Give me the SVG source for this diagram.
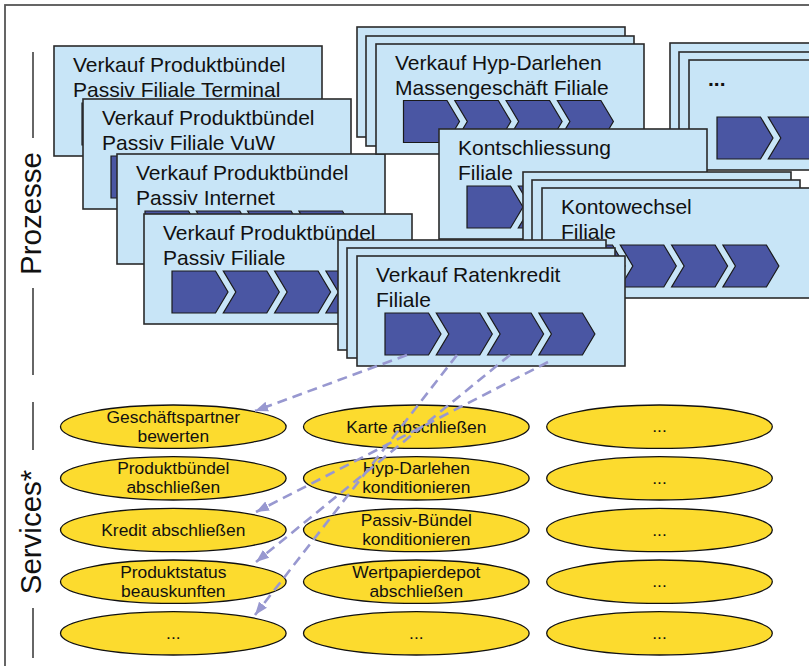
<svg xmlns="http://www.w3.org/2000/svg" xmlns:xlink="http://www.w3.org/1999/xlink" width="809" height="666" viewBox="0 0 809 666">
<style>
.card{fill:#C8E5F7;stroke:#2a2a2a;stroke-width:1.6}
.chev{fill:#4A56A3;stroke:#1a1a1a;stroke-width:1.2}
.ct{font-family:"Liberation Sans",Arial,sans-serif;font-size:21px;fill:#111}
.ell{fill:#FCDB2E;stroke:#111;stroke-width:1.3}
.et{font-family:"Liberation Sans",Arial,sans-serif;font-size:17.4px;fill:#111;text-anchor:middle}
.axis{font-family:"Liberation Sans",Arial,sans-serif;font-size:29.5px;fill:#111;text-anchor:middle}
.aline{stroke:#333;stroke-width:1.5}
.conn{fill:none;stroke:#9898D0;stroke-width:2.6;stroke-dasharray:10 6}
</style>
<defs>
<path id="c1" class="chev" d="M0,0 H43.5 L56,21 L43.5,42 H0 Z"/>
<path id="c2" class="chev" d="M0,0 H43.5 L56,21 L43.5,42 H0 L12.5,21 Z"/>
<marker id="ah" markerUnits="userSpaceOnUse" markerWidth="14" markerHeight="12" viewBox="0 0 14 12" refX="13" refY="6" orient="auto">
<path d="M0,1 L13,6 L0,11 Z" fill="#9898D0"/>
</marker>
</defs>
<rect x="5" y="5" width="900" height="800" fill="#fff" stroke="#555" stroke-width="1.8"/>
<g id="axis-prozesse">
<line class="aline" x1="33" y1="52" x2="33" y2="138"/>
<line class="aline" x1="33" y1="288" x2="33" y2="375"/>
<text class="axis" transform="translate(41,213.5) rotate(-90)">Prozesse</text>
</g>
<g id="axis-services">
<line class="aline" x1="33" y1="402" x2="33" y2="450"/>
<line class="aline" x1="33" y1="608" x2="33" y2="658"/>
<text class="axis" transform="translate(41,532) rotate(-90)">Services*</text>
</g>
<g id="p-terminal">
<rect class="card" x="54" y="46" width="268" height="110"/>
<use xlink:href="#c1" x="82" y="103"/><use xlink:href="#c2" x="133.3" y="103"/><use xlink:href="#c2" x="184.6" y="103"/><use xlink:href="#c2" x="235.9" y="103"/>
<text class="ct" x="73" y="72">Verkauf Produktbündel</text>
<text class="ct" x="73" y="97">Passiv Filiale Terminal</text>
</g>
<g id="p-vuw">
<rect class="card" x="83" y="99" width="268" height="110"/>
<use xlink:href="#c1" x="111" y="156"/><use xlink:href="#c2" x="162.3" y="156"/><use xlink:href="#c2" x="213.6" y="156"/><use xlink:href="#c2" x="264.9" y="156"/>
<text class="ct" x="102" y="125">Verkauf Produktbündel</text>
<text class="ct" x="102" y="150">Passiv Filiale VuW</text>
</g>
<g id="p-internet">
<rect class="card" x="117" y="154" width="268" height="110"/>
<use xlink:href="#c1" x="145" y="211"/><use xlink:href="#c2" x="196.3" y="211"/><use xlink:href="#c2" x="247.6" y="211"/><use xlink:href="#c2" x="298.9" y="211"/>
<text class="ct" x="136" y="180">Verkauf Produktbündel</text>
<text class="ct" x="136" y="205">Passiv Internet</text>
</g>
<g id="p-filiale">
<rect class="card" x="144" y="214" width="268" height="110"/>
<use xlink:href="#c1" x="172" y="271"/><use xlink:href="#c2" x="223.3" y="271"/><use xlink:href="#c2" x="274.6" y="271"/><use xlink:href="#c2" x="325.9" y="271"/>
<text class="ct" x="163" y="240">Verkauf Produktbündel</text>
<text class="ct" x="163" y="265">Passiv Filiale</text>
</g>
<g id="p-hyp">
<rect class="card" x="357" y="27" width="268" height="110"/>
<rect class="card" x="366" y="36" width="268" height="110"/>
<rect class="card" x="376" y="44" width="268" height="110"/>
<use xlink:href="#c1" x="403.5" y="100.5"/><use xlink:href="#c2" x="454.8" y="100.5"/><use xlink:href="#c2" x="506.1" y="100.5"/><use xlink:href="#c2" x="557.4" y="100.5"/>
<text class="ct" x="395" y="70">Verkauf Hyp-Darlehen</text>
<text class="ct" x="395" y="95">Massengeschäft Filiale</text>
</g>
<g id="p-more">
<rect class="card" x="670" y="43" width="268" height="110"/>
<rect class="card" x="679" y="52" width="268" height="110"/>
<rect class="card" x="689" y="60" width="268" height="110"/>
<use xlink:href="#c1" x="717" y="117"/><use xlink:href="#c2" x="768.3" y="117"/>
<text class="ct" x="708" y="86" font-weight="bold">...</text>
</g>
<g id="p-kontschliessung">
<rect class="card" x="439" y="129" width="268" height="110"/>
<use xlink:href="#c1" x="467" y="186"/><use xlink:href="#c2" x="518.3" y="186"/><use xlink:href="#c2" x="569.6" y="186"/><use xlink:href="#c2" x="620.9" y="186"/>
<text class="ct" x="458" y="155">Kontschliessung</text>
<text class="ct" x="458" y="180">Filiale</text>
</g>
<g id="p-kontowechsel">
<rect class="card" x="523" y="172" width="268" height="110"/>
<rect class="card" x="532" y="180" width="268" height="110"/>
<rect class="card" x="542" y="188" width="268" height="110"/>
<use xlink:href="#c1" x="569" y="245"/><use xlink:href="#c2" x="620.3" y="245"/><use xlink:href="#c2" x="671.6" y="245"/><use xlink:href="#c2" x="722.9" y="245"/>
<text class="ct" x="561" y="214">Kontowechsel</text>
<text class="ct" x="561" y="239">Filiale</text>
</g>
<g id="p-ratenkredit">
<rect class="card" x="338" y="240" width="268" height="110"/>
<rect class="card" x="347" y="248" width="268" height="110"/>
<rect class="card" x="357" y="256" width="268" height="110"/>
<use xlink:href="#c1" x="385" y="313"/><use xlink:href="#c2" x="436.3" y="313"/><use xlink:href="#c2" x="487.6" y="313"/><use xlink:href="#c2" x="538.9" y="313"/>
<text class="ct" x="376" y="282">Verkauf Ratenkredit</text>
<text class="ct" x="376" y="307">Filiale</text>
</g>
<g id="s-geschaeftspartner"><ellipse class="ell" cx="173.3" cy="426.7" rx="112.8" ry="21.7"/><text class="et" x="173.3" y="422.7">Geschäftspartner</text><text class="et" x="173.3" y="441.7">bewerten</text></g>
<g id="s-produktbuendel"><ellipse class="ell" cx="173.3" cy="478.3" rx="112.8" ry="21.7"/><text class="et" x="173.3" y="474.3">Produktbündel</text><text class="et" x="173.3" y="493.3">abschließen</text></g>
<g id="s-kredit"><ellipse class="ell" cx="173.3" cy="530" rx="112.8" ry="21.7"/><text class="et" x="173.3" y="536">Kredit abschließen</text></g>
<g id="s-produktstatus"><ellipse class="ell" cx="173.3" cy="581.7" rx="112.8" ry="21.7"/><text class="et" x="173.3" y="577.7">Produktstatus</text><text class="et" x="173.3" y="596.7">beauskunften</text></g>
<g id="s-more-1"><ellipse class="ell" cx="173.3" cy="633.3" rx="112.8" ry="21.7"/><text class="et" x="173.3" y="639">...</text></g>
<g id="s-karte"><ellipse class="ell" cx="416.3" cy="426.7" rx="112.8" ry="21.7"/><text class="et" x="416.3" y="432.7">Karte abschließen</text></g>
<g id="s-hyp"><ellipse class="ell" cx="416.3" cy="478.3" rx="112.8" ry="21.7"/><text class="et" x="416.3" y="474.3">Hyp-Darlehen</text><text class="et" x="416.3" y="493.3">konditionieren</text></g>
<g id="s-passiv"><ellipse class="ell" cx="416.3" cy="530" rx="112.8" ry="21.7"/><text class="et" x="416.3" y="526">Passiv-Bündel</text><text class="et" x="416.3" y="545">konditionieren</text></g>
<g id="s-wertpapier"><ellipse class="ell" cx="416.3" cy="581.7" rx="112.8" ry="21.7"/><text class="et" x="416.3" y="577.7">Wertpapierdepot</text><text class="et" x="416.3" y="596.7">abschließen</text></g>
<g id="s-more-2"><ellipse class="ell" cx="416.3" cy="633.3" rx="112.8" ry="21.7"/><text class="et" x="416.3" y="639">...</text></g>
<g id="s-more-3"><ellipse class="ell" cx="659.5" cy="426.7" rx="112.8" ry="21.7"/><text class="et" x="659.5" y="432.4">...</text></g>
<g id="s-more-4"><ellipse class="ell" cx="659.5" cy="478.3" rx="112.8" ry="21.7"/><text class="et" x="659.5" y="484">...</text></g>
<g id="s-more-5"><ellipse class="ell" cx="659.5" cy="530" rx="112.8" ry="21.7"/><text class="et" x="659.5" y="535.7">...</text></g>
<g id="s-more-6"><ellipse class="ell" cx="659.5" cy="581.7" rx="112.8" ry="21.7"/><text class="et" x="659.5" y="587.4">...</text></g>
<g id="s-more-7"><ellipse class="ell" cx="659.5" cy="633.3" rx="112.8" ry="21.7"/><text class="et" x="659.5" y="639">...</text></g>
<g id="connectors">
<path class="conn" d="M407,355 L255,411" marker-end="url(#ah)"/>
<path class="conn" d="M457,355 L255,615" marker-end="url(#ah)"/>
<path class="conn" d="M510,355 L256,562" marker-end="url(#ah)"/>
<path class="conn" d="M548,362 L256,512" marker-end="url(#ah)"/>
</g>
</svg>
